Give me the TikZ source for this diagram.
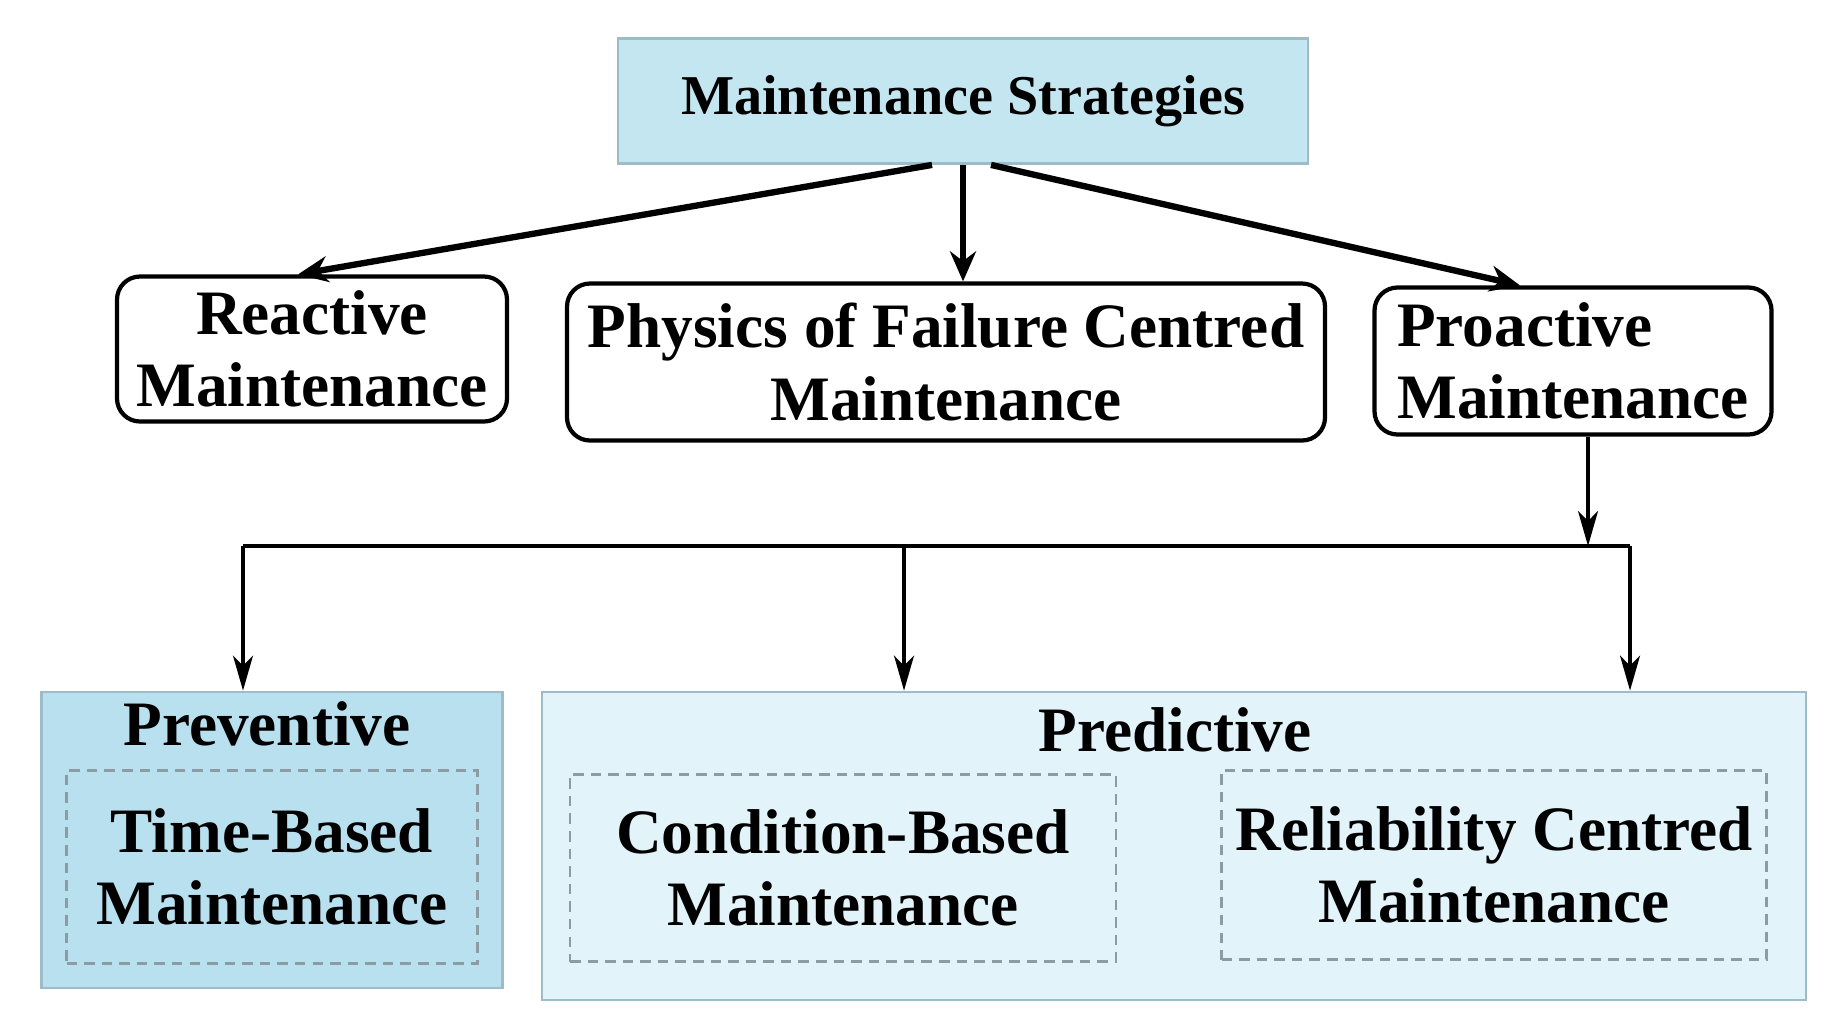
\documentclass[tikz,border=0pt]{standalone}
\usepackage{fontspec}
\setmainfont{Liberation Serif}
\usetikzlibrary{arrows.meta}

\definecolor{topblue}{HTML}{C4E6F0}
\definecolor{prevblue}{HTML}{B8E0EE}
\definecolor{predblue}{HTML}{E2F3F9}
\definecolor{boxline}{HTML}{9DBCC8}
\definecolor{dashline}{HTML}{8C9CA2}

\begin{document}
\begin{tikzpicture}[x=0.1mm, y=-0.1mm,
    font=\fontsize{18}{20.5}\selectfont\bfseries,
    strategy/.style={draw, line width=1.2pt, rounded corners=2.3mm,
        align=center, inner sep=0pt},
    group/.style={draw=boxline, line width=0.8pt, inner sep=0pt},
    kind/.style={draw=dashline, dash pattern=on 3pt off 2pt,
        line width=0.6pt, align=center, inner sep=0pt},
    thick arrow/.style={-{Stealth[length=3mm,width=2.6mm]}, line width=1.8pt},
    thin arrow/.style={-{Stealth[length=3.5mm,width=2mm,inset=1mm]}, line width=0.9pt}]

\useasboundingbox (0,0) rectangle (1824,1026);

% top of the tree
\node[group, fill=topblue, minimum width=6.9cm, minimum height=1.25cm,
    font=\fontsize{16}{19}\selectfont\bfseries] (top) at (963,101) {Maintenance Strategies};

% the three strategies
\node[strategy, minimum width=3.9cm, minimum height=1.45cm] (react) at (312,349)
    {Reactive\\Maintenance};
\node[strategy, minimum width=7.58cm, minimum height=1.57cm] (pof) at (946,362)
    {Physics of Failure Centred\\Maintenance};
\node[strategy, minimum width=3.97cm, minimum height=1.47cm, align=left] (pro) at (1573,361)
    {Proactive\\Maintenance};

\draw[thick arrow] ([xshift=-3.1mm]top.south) -- ([xshift=-1.4mm]react.north);
\draw[thick arrow] (top.south) -- (top.south |- pof.north);
\draw[thick arrow] ([xshift=2.8mm]top.south) -- ([xshift=-5.3mm]pro.north);

% the two proactive groups
\node[group, fill=prevblue, minimum width=4.61cm, minimum height=2.96cm] (prev) at (272,840) {};
\node[group, fill=predblue, minimum width=12.64cm, minimum height=3.08cm] (pred) at (1174,846) {};
\node (prevlabel) at (267,724) {Preventive};
\node (predlabel) at (1175,730) {Predictive};

\node[kind, minimum width=4.11cm, minimum height=1.93cm] (tbm) at (272,867)
    {Time-Based\\Maintenance};
\node[kind, minimum width=5.46cm, minimum height=1.87cm] (cbm) at (843,868)
    {Condition-Based\\Maintenance};
\node[kind, minimum width=5.45cm, minimum height=1.89cm] (rcm) at (1494,865)
    {Reliability Centred\\Maintenance};

% bus below proactive
\coordinate (join) at (1588,546);
\coordinate (busL) at (243,546);
\coordinate (busM) at (904,546);
\coordinate (busR) at (1630,546);

\draw[thin arrow] (pro.south -| join) -- (join);
\draw[line width=1.3pt] (busL) -- (busR);
\draw[thin arrow] (busL) -- (busL |- prev.north);
\draw[thin arrow] (busM) -- (busM |- pred.north);
\draw[thin arrow] (busR) -- (busR |- pred.north);

\end{tikzpicture}
\end{document}
